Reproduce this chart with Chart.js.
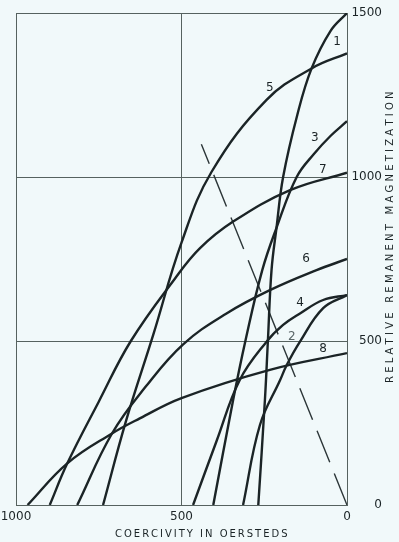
<!doctype html>
<html>
<head>
    <title>Remanent magnetization vs coercivity</title>
    <script src="https://cdn.jsdelivr.net/npm/chart.js@4.4.1/dist/chart.umd.min.js"></script>
    <style>
        body { margin: 0; background: #f1f9fa; }
        canvas { display: block; }
    </style>
</head>
<body>
<canvas id="chart-area" width="399" height="542"></canvas>
<script>
    // axis ticks
    var xTicks = [1000, 500, 0];
    var yTicks = [0, 500, 1000, 1500];
    var xTitle = 'COERCIVITY IN OERSTEDS';
    var yTitle = 'RELATIVE REMANENT MAGNETIZATION';

    // curves, coercivity (oersteds) -> relative remanent magnetization
    var oe1 = [0, 50, 107, 150, 193, 213, 228, 239, 248, 268];
    var mag1 = [1500, 1445, 1331, 1190, 1000, 845, 716, 500, 320, 0];
    var oe2 = [0, 72, 142, 182, 202, 263, 314];
    var mag2 = [640, 600, 498, 427, 381, 244, 0];
    var oe3 = [0, 50, 100, 152, 213, 256, 307, 344, 404];
    var mag3 = [1170, 1125, 1070, 1000, 845, 716, 500, 320, 0];
    var oe4 = [0, 72, 142, 193, 243, 324, 394, 465];
    var mag4 = [640, 625, 584, 549, 498, 381, 195, 0];
    var oe5 = [0, 107, 243, 409, 500, 585, 668, 737];
    var mag5 = [1377, 1331, 1235, 1016, 800, 520, 255, 0];
    var oe6 = [0, 92, 233, 364, 495, 608, 710, 815];
    var mag6 = [750, 716, 655, 584, 490, 361, 218, 0];
    var oe7 = [0, 172, 344, 444, 520, 653, 750, 845, 898];
    var mag7 = [1013, 960, 864, 783, 690, 500, 315, 127, 0];
    var oe8 = [0, 233, 500, 626, 710, 845, 965];
    var mag8 = [463, 412, 326, 264, 218, 127, 0];

    // dashed line
    var dashOe = [0, 440];
    var dashMag = [0, 1100];

    // curve numbers and where they are written
    var curveNames = ['1', '2', '3', '4', '5', '6', '7', '8'];
    var labelOe = [30, 167, 97, 142, 233, 124, 73, 72];
    var labelMag = [1412, 513, 1119, 615, 1271, 750, 1021, 475];

    var curveOe = [oe1, oe2, oe3, oe4, oe5, oe6, oe7, oe8];
    var curveMag = [mag1, mag2, mag3, mag4, mag5, mag6, mag7, mag8];

    var ink = '#1b2426';
    var gridInk = '#56625f';

    function toPoints(xs, ys) {
        return xs.map(function(x, i) { return {x: x, y: ys[i]}; });
    }

    var datasets = curveOe.map(function(xs, i) {
        return {
            label: curveNames[i],
            data: toPoints(xs, curveMag[i]),
            showLine: true,
            borderColor: ink,
            borderWidth: 2.4,
            pointRadius: 0,
            tension: 0.4
        };
    });
    datasets.push({
        label: 'dashed',
        data: toPoints(dashOe, dashMag),
        showLine: true,
        borderColor: '#2c3638',
        borderWidth: 1.4,
        borderDash: [34, 12],
        pointRadius: 0
    });

    function spacedText(ctx, text, left, y, width) {
        var plain = ctx.measureText(text).width;
        var gap = (width - plain) / (text.length - 1);
        var x = left;
        for (var i = 0; i < text.length; i++) {
            ctx.fillText(text[i], x, y);
            x += ctx.measureText(text[i]).width + gap;
        }
    }

    var textPlugin = {
        id: 'texts',
        beforeDraw: function(chart) {
            var ctx = chart.ctx;
            ctx.save();
            ctx.fillStyle = '#f1f9fa';
            ctx.fillRect(0, 0, chart.width, chart.height);
            ctx.restore();
        },
        afterDatasetsDraw: function(chart) {
            var ctx = chart.ctx;
            var xs = chart.scales.x, ys = chart.scales.y;
            ctx.save();
            ctx.font = '12px "DejaVu Sans"';
            ctx.textAlign = 'center';
            ctx.textBaseline = 'middle';
            for (var i = 0; i < curveNames.length; i++) {
                ctx.fillStyle = curveNames[i] === '2' ? '#5a6668' : ink;
                ctx.fillText(curveNames[i], xs.getPixelForValue(labelOe[i]), ys.getPixelForValue(labelMag[i]));
            }
            ctx.fillStyle = ink;
            ctx.font = '10px "DejaVu Sans"';
            ctx.textAlign = 'left';
            spacedText(ctx, xTitle, 115, 534, 172);
            ctx.translate(390, 238);
            ctx.rotate(-Math.PI / 2);
            spacedText(ctx, yTitle, -145, 0, 290);
            ctx.restore();
        }
    };

    var config = {
        type: 'scatter',
        data: { datasets: datasets },
        options: {
            responsive: false,
            animation: false,
            layout: { padding: { left: 16, top: 13, right: 17, bottom: 0 } },
            plugins: { legend: { display: false }, tooltip: { enabled: false } },
            scales: {
                x: {
                    type: 'linear',
                    reverse: true,
                    min: 0,
                    max: 1000,
                    afterBuildTicks: function(scale) {
                        scale.ticks = xTicks.map(function(v) { return {value: v}; });
                    },
                    ticks: {
                        color: ink,
                        font: { family: 'DejaVu Sans', size: 12 },
                        padding: 5,
                        maxRotation: 0,
                        autoSkip: false,
                        callback: function(v) { return String(v); }
                    },
                    grid: { color: gridInk, lineWidth: 1, drawTicks: false },
                    border: { color: gridInk, width: 1 },
                    afterFit: function(scale) {
                        scale.height = 37;
                        scale.paddingLeft = 0;
                        scale.paddingRight = 0;
                    }
                },
                y: {
                    type: 'linear',
                    position: 'right',
                    min: 0,
                    max: 1500,
                    afterBuildTicks: function(scale) {
                        scale.ticks = yTicks.map(function(v) { return {value: v}; });
                    },
                    ticks: {
                        color: ink,
                        font: { family: 'DejaVu Sans', size: 12 },
                        padding: 4,
                        crossAlign: 'far',
                        callback: function(v) { return String(v); }
                    },
                    grid: { color: gridInk, lineWidth: 1, drawTicks: false },
                    border: { color: gridInk, width: 1 },
                    afterFit: function(scale) {
                        scale.width = 35;
                        scale.paddingTop = 0;
                        scale.paddingBottom = 0;
                    }
                }
            }
        },
        plugins: [textPlugin]
    };

    window.onload = function() {
        var ctx = document.getElementById('chart-area').getContext('2d');
        window.myChart = new Chart(ctx, config);
    };
</script>
</body>
</html>
